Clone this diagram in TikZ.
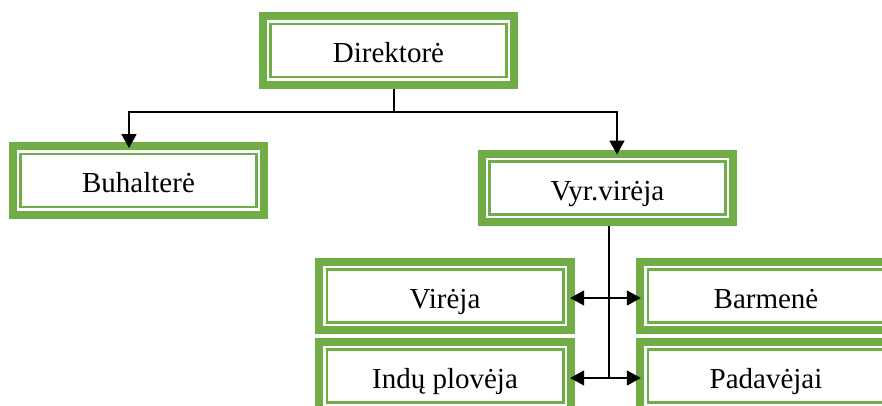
\documentclass[tikz,border=0pt]{standalone}
\usepackage{fontspec}
\setmainfont{Liberation Serif}
\usetikzlibrary{arrows.meta,calc}
\definecolor{boxgreen}{HTML}{70AD47}
\tikzset{
  orgbox/.style={
    fill=boxgreen, draw=none, inner sep=0pt,
    minimum width=#1, minimum height=76.5pt,
    font=\fontsize{29}{34}\selectfont,
    text height=24pt, text depth=0pt,
    path picture={
      \fill[white]
        ($(path picture bounding box.south west)+(8pt,8pt)$) rectangle
        ($(path picture bounding box.north east)+(-8pt,-8pt)$);
      \draw[boxgreen, line width=2.5pt]
        ($(path picture bounding box.south west)+(11.75pt,11.75pt)$) rectangle
        ($(path picture bounding box.north east)+(-11.75pt,-11.75pt)$);
    }
  },
  orgbox/.default=259.5pt,
  conn/.style={line width=1.6pt, draw=black},
  arr/.style={conn, -{Triangle[length=14pt,width=15pt]}},
  biarr/.style={conn, {Triangle[length=14pt,width=15pt]}-{Triangle[length=14pt,width=15pt]}}
}
\begin{document}
\begin{tikzpicture}[x=1pt,y=-1pt]
  \useasboundingbox (0,0) rectangle (882,405);
  \clip (0,0) rectangle (882,405);

  % boxes
  \node[orgbox] (dir) at (388.5,50.5) {Direktorė};
  \node[orgbox] (buh) at (138.5,180.5) {Buhalterė};
  \node[orgbox] (vyr) at (607.5,188) {Vyr.virėja};
  \node[orgbox=260pt] (vir) at (445,296) {Virėja};
  \node[orgbox=260pt] (ind) at (445,376) {Indų plovėja};
  \node[orgbox=260pt] (bar) at (766,296) {Barmenė};
  \node[orgbox=260pt] (pad) at (766,376) {Padavėjai};

  % branching from the director
  \coordinate (junc) at (394,112);
  \draw[conn] (dir.south -| junc) -- (junc);
  \draw[arr, shorten >=-6pt] (junc) -| ([xshift=-9.5pt]buh.north);
  \draw[arr, shorten >=-5pt] (junc) -| ([xshift=9.5pt]vyr.north);

  % spine under the head cook
  \coordinate (spine) at (609,378);
  \draw[conn] (vyr.south -| spine) -- (spine);
  \draw[biarr, shorten <=-5pt, shorten >=-5pt] ([yshift=-2pt]vir.east) -- ([yshift=-2pt]bar.west);
  \draw[biarr, shorten <=-5pt, shorten >=-5pt] ([yshift=-2pt]ind.east) -- ([yshift=-2pt]pad.west);
\end{tikzpicture}
\end{document}
